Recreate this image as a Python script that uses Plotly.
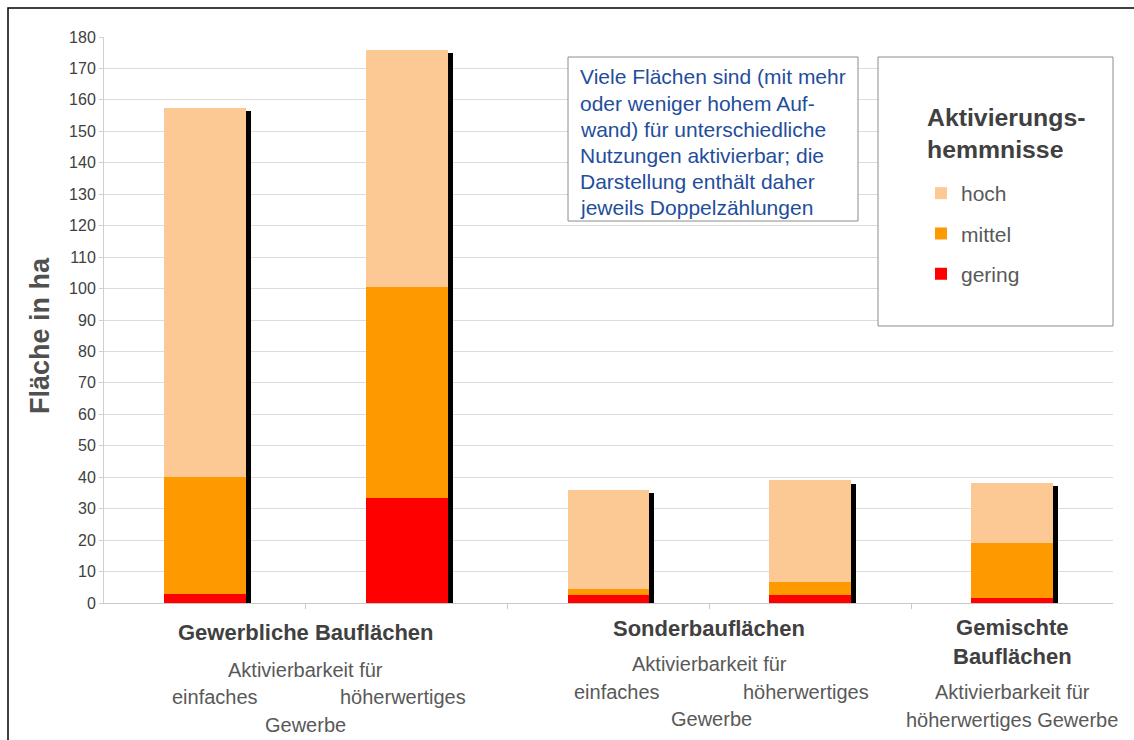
import numpy as np
import plotly.graph_objects as go

# ---- data ----
positions = [0, 1, 2, 3, 4]
bar_ids = ["Gewerbe einfach", "Gewerbe höherwertig", "Sonder einfach",
           "Sonder höherwertig", "Gemischt höherwertig"]
gering = [3.0, 33.5, 2.5, 2.5, 1.7]
mittel = [37.0, 67.0, 2.0, 4.2, 17.4]
hoch = [117.5, 75.5, 31.5, 32.3, 19.1]
y_ticks = list(range(0, 181, 10))

series_names = ["hoch", "mittel", "gering"]
series_colors = ["#fcc995", "#ff9900", "#ff0000"]

group_titles = ["Gewerbliche Bauflächen", "Sonderbauflächen", "Gemischte<br>Bauflächen"]
group_centers = [0.5, 2.5, 4.0]
sub_header = "Aktivierbarkeit für"
label_einfach = "einfaches"
label_hoeher = "höherwertiges"
label_gewerbe = "Gewerbe"
label_mixed = "höherwertiges Gewerbe"
y_title = "Fläche in ha"
legend_title = "Aktivierungs-<br>hemmnisse"

note_lines = ["Viele Flächen sind (mit mehr", "oder weniger hohem Auf-",
              "wand) für unterschiedliche", "Nutzungen aktivierbar; die",
              "Darstellung enthält daher", "jeweils Doppelzählungen"]

FONT = "Liberation Sans, Arial, sans-serif"
GRAY = "#595959"
DARK = "#404040"

g = np.array(gering)
m = np.array(mittel)
h = np.array(hoch)
total = g + m + h
BAR_W = 0.406

fig = go.Figure()

# shadow behind bars
fig.add_trace(go.Bar(x=positions, y=total - 1.0, base=0, offset=BAR_W / 2 - 0.002,
                     width=0.026, marker=dict(color="#000000", line=dict(width=0)),
                     showlegend=False, hoverinfo="skip"))

bases = {"gering": np.zeros_like(g), "mittel": g, "hoch": g + m}
values = {"gering": g, "mittel": m, "hoch": h}
for name, col in zip(series_names, series_colors):
    fig.add_trace(go.Bar(x=positions, y=values[name], base=bases[name], name=name, width=BAR_W,
                         marker=dict(color=col, line=dict(width=0)),
                         legendgroup=name))

# ---- frame and boxes (paper coords computed from pixel layout) ----
L, R, T, B = 104, 1113, 37, 603
PW, PH = R - L, B - T
def px(xp):
    return (xp - L) / PW
def py(yp):
    return (B - yp) / PH

shapes = [
    dict(type="rect", xref="paper", yref="paper", x0=px(8), x1=px(1160), y0=py(770), y1=py(8),
         line=dict(color="#000000", width=1.5), fillcolor="rgba(0,0,0,0)", layer="above"),
    dict(type="rect", xref="paper", yref="paper", x0=px(568), x1=px(858), y0=py(221), y1=py(57),
         line=dict(color="#8c8c8c", width=1), fillcolor="#ffffff", layer="above"),
    dict(type="rect", xref="paper", yref="paper", x0=px(878), x1=px(1113), y0=py(326), y1=py(57),
         line=dict(color="#8c8c8c", width=1), fillcolor="#ffffff", layer="above"),
]

annotations = []
def lab(text, x, ypix, size, color, bold=False):
    t = f"<b>{text}</b>" if bold else text
    annotations.append(dict(text=t, x=x, xref="x", y=0, yref="paper",
                            yshift=-(ypix - B), showarrow=False,
                            font=dict(family=FONT, size=size, color=color),
                            xanchor="center", yanchor="middle", align="center"))

lab(group_titles[0], group_centers[0], 632, 22, DARK, True)
lab(sub_header, 0.5, 670, 20, GRAY)
lab(label_einfach, 0.05, 697, 20, GRAY)
lab(label_hoeher, 0.98, 697, 20, GRAY)
lab(label_gewerbe, 0.5, 725, 20, GRAY)

lab(group_titles[1], group_centers[1], 628, 22, DARK, True)
lab(sub_header, 2.5, 664, 20, GRAY)
lab(label_einfach, 2.04, 692, 20, GRAY)
lab(label_hoeher, 2.98, 692, 20, GRAY)
lab(label_gewerbe, 2.51, 719, 20, GRAY)

lab(group_titles[2], group_centers[2], 642, 22, DARK, True)
lab(sub_header, 4.0, 692, 20, GRAY)
lab(label_mixed, 4.0, 720, 20, GRAY)

for i, line in enumerate(note_lines):
    annotations.append(dict(text=line, x=px(578), xref="paper", y=py(77 + i * 26.0), yref="paper",
                            showarrow=False, xanchor="left", yanchor="middle",
                            font=dict(family=FONT, size=21, color="#1f4e9c")))

# y axis title
annotations.append(dict(text=f"<b>{y_title}</b>", x=px(40), xref="paper", y=py(336), yref="paper",
                        showarrow=False, textangle=-90, xanchor="center", yanchor="middle",
                        font=dict(family=FONT, size=27, color="#505050")))
# legend title
annotations.append(dict(text=f"<b>{legend_title}</b>", x=px(925), xref="paper", y=py(133), yref="paper",
                        showarrow=False, xanchor="left", yanchor="middle", align="left",
                        font=dict(family=FONT, size=24.8, color=DARK)))

fig.update_layout(
    width=1134, height=740,
    margin=dict(l=L, r=1134 - R, t=T, b=740 - B, pad=0),
    paper_bgcolor="#ffffff", plot_bgcolor="#ffffff",
    barmode="overlay",
    bargap=0,
    font=dict(family=FONT, color=GRAY),
    xaxis=dict(range=[-0.5, 4.5], tickvals=[0.5, 1.5, 2.5, 3.5], ticktext=["", "", "", ""],
               ticks="outside", ticklen=5, tickcolor="#c8c8c8", showgrid=False,
               showline=True, linecolor="#c8c8c8", linewidth=1, zeroline=False, fixedrange=True),
    yaxis=dict(range=[0, 180], tickvals=y_ticks, ticks="outside", ticklen=4, tickcolor="#d0d0d0",
               showgrid=True, gridcolor="#dcdcdc", gridwidth=1, zeroline=False,
               showline=True, linecolor="#d0d0d0", linewidth=1,
               tickfont=dict(family=FONT, size=16, color="#404040")),
    legend=dict(x=px(921), y=py(173), xanchor="left", yanchor="top",
                bgcolor="rgba(0,0,0,0)", borderwidth=0,
                traceorder="grouped", tracegroupgap=10,
                font=dict(family=FONT, size=21, color=GRAY)),
    shapes=shapes,
    annotations=annotations,
    showlegend=True,
)

fig.write_html("out.html")
